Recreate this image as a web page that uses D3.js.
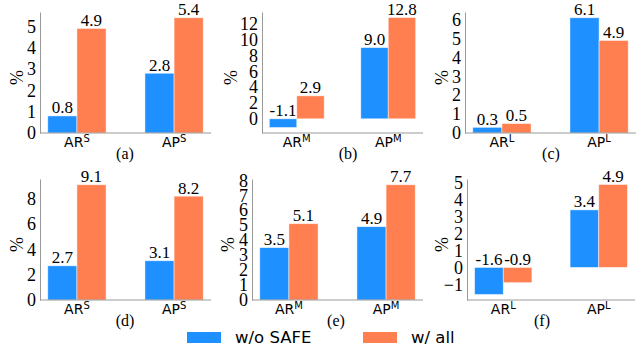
<!DOCTYPE html>
<html>
<head>
<meta charset="utf-8">
<script src="https://cdn.jsdelivr.net/npm/d3@7"></script>
<style>
  body { margin: 0; background: #fff; }
</style>
</head>
<body>
<div id="chart"></div>
<script>
// data
var captions = ["(a)", "(b)", "(c)", "(d)", "(e)", "(f)"];
var metrics = ["AR", "AP"];
var sizeTags = ["S", "M", "L", "S", "M", "L"];
var woSafe = [[0.8, 2.8], [-1.1, 9.0], [0.3, 6.1], [2.7, 3.1], [3.5, 4.9], [-1.6, 3.4]];
var wAll = [[4.9, 5.4], [2.9, 12.8], [0.5, 4.9], [9.1, 8.2], [5.1, 7.7], [-0.9, 4.9]];
var yTicks = [
    [0, 1, 2, 3, 4, 5],
    [0, 2, 4, 6, 8, 10, 12],
    [0, 1, 2, 3, 4, 5, 6],
    [0, 2, 4, 6, 8],
    [0, 1, 2, 3, 4, 5, 6, 7, 8],
    [-1, 0, 1, 2, 3, 4, 5]
];
var seriesNames = ["w/o SAFE", "w/ all"];
var colors = ["#1E90FF", "#FF7F50"];

var serif = "'Liberation Serif', 'Times New Roman', Times, serif",
    sans = "'DejaVu Sans', Verdana, sans-serif";

// layout of the six panels (pixels)
var width = 640, height = 351;
var axLeft = [40, 262, 465, 40, 252, 467],
    axRight = [211, 423, 636, 211, 423, 635],
    axBottom = [133, 133, 133, 300, 300, 300],
    axHeight = 121,
    ylabX = [17, 231, 442, 17, 228, 442],
    capX = [125, 348, 551, 125, 336, 542],
    barW = 0.3;

var svg = d3.select("#chart")
    .append("svg")
    .attr("width", width)
    .attr("height", height);

captions.forEach(function(cap, p) {
    var vals = [woSafe[p], wAll[p]];
    var all = woSafe[p].concat(wAll[p]);
    var lo = Math.min(0, d3.min(all)), hi = Math.max(0, d3.max(all));
    var pad = (hi - lo) * 0.05;

    var x = d3.scaleLinear()
        .domain([-barW - 0.08, 1 + barW + 0.08])
        .range([axLeft[p], axRight[p]]);
    var y = d3.scaleLinear()
        .domain([lo < 0 ? lo - pad : 0, hi + pad])
        .range([axBottom[p], axBottom[p] - axHeight]);

    var g = svg.append("g");

    // bars + value labels
    vals.forEach(function(series, s) {
        g.selectAll(null)
            .data(series)
            .enter()
            .append("rect")
            .attr("x", function(d, i) { return x(i - barW + s * barW); })
            .attr("width", x(barW) - x(0))
            .attr("y", function(d) { return y(Math.max(d, 0)); })
            .attr("height", function(d) { return Math.abs(y(d) - y(0)); })
            .attr("fill", colors[s])
            .attr("stroke", "#fff")
            .attr("stroke-opacity", 0.6)
            .attr("stroke-width", 0.8);

        g.selectAll(null)
            .data(series)
            .enter()
            .append("text")
            .attr("x", function(d, i) { return x(i - barW / 2 + s * barW); })
            .attr("y", function(d) { return y(Math.max(d, 0)) - 2.5; })
            .attr("text-anchor", "middle")
            .style("font-family", serif)
            .style("font-size", "17px")
            .attr("fill", "#000")
            .text(function(d) { return d.toFixed(1); });
    });

    // y axis, no tick marks
    var yAxis = d3.axisLeft(y)
        .tickValues(yTicks[p])
        .tickSize(0)
        .tickPadding(4)
        .tickFormat(function(d) { return d < 0 ? "\u2212" + Math.abs(d) : d; });
    var ya = g.append("g")
        .attr("transform", "translate(" + axLeft[p] + ",0)")
        .call(yAxis)
        .attr("font-family", null)
        .attr("font-size", null);
    ya.select(".domain").attr("stroke", "#999");
    ya.selectAll("text")
        .style("font-family", serif)
        .style("font-size", "18px")
        .attr("fill", "#000");

    // x axis line
    g.append("line")
        .attr("x1", axLeft[p]).attr("x2", axRight[p])
        .attr("y1", axBottom[p]).attr("y2", axBottom[p])
        .attr("stroke", "#999");

    // category labels with superscript
    var cat = g.selectAll(null)
        .data(metrics)
        .enter()
        .append("text")
        .attr("x", function(d, i) { return x(i); })
        .attr("y", axBottom[p] + 14)
        .attr("text-anchor", "middle")
        .style("font-family", sans)
        .style("font-size", "14px");
    cat.append("tspan").text(function(d) { return d; });
    cat.append("tspan")
        .attr("dy", -5)
        .style("font-size", "10px")
        .text(sizeTags[p]);

    // y label
    g.append("text")
        .attr("transform", "translate(" + ylabX[p] + "," + (axBottom[p] - axHeight / 2 + 5) + ") rotate(-90)")
        .attr("text-anchor", "middle")
        .attr("dy", "0.35em")
        .style("font-family", serif)
        .style("font-size", "18px")
        .text("%");

    // caption
    g.append("text")
        .attr("x", capX[p])
        .attr("y", axBottom[p] + 26)
        .attr("text-anchor", "middle")
        .style("font-family", serif)
        .style("font-size", "16px")
        .text(cap);
});

// legend
var legX = [187, 363];
var leg = svg.append("g");
seriesNames.forEach(function(name, s) {
    leg.append("rect")
        .attr("x", legX[s]).attr("y", 332)
        .attr("width", 34).attr("height", 11)
        .attr("fill", colors[s]);
    leg.append("text")
        .attr("x", legX[s] + 48)
        .attr("y", 343)
        .style("font-family", sans)
        .style("font-size", "16.5px")
        .text(name);
});
</script>
</body>
</html>
